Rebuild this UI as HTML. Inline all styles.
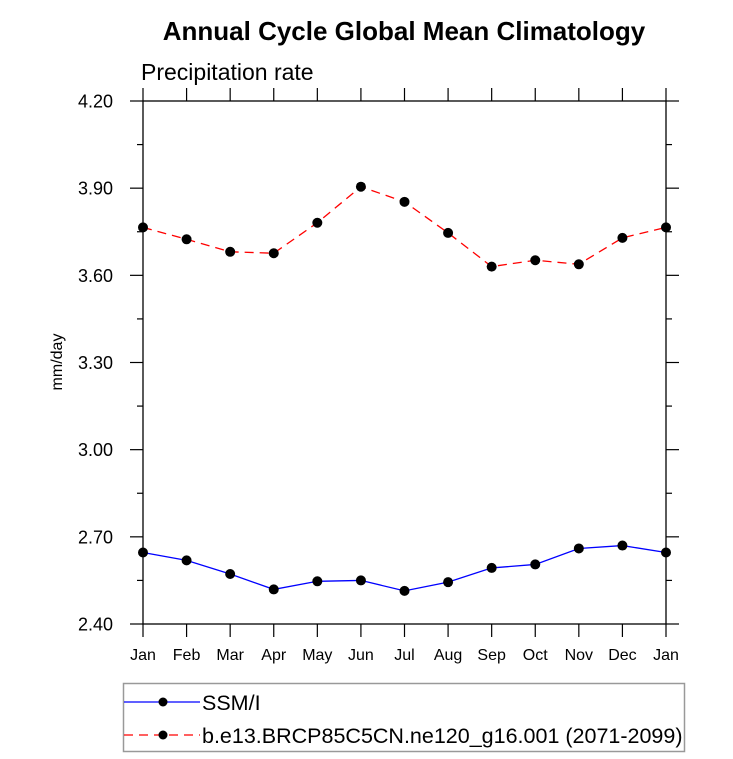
<!DOCTYPE html>
<html><head><meta charset="utf-8"><style>
html,body{margin:0;padding:0;background:#fff;}
svg{display:block;font-family:"Liberation Sans",Arial,sans-serif;}
</style></head><body>
<svg id="chart" width="733" height="759">
<text x="404" y="40" text-anchor="middle" font-size="26" font-weight="bold">Annual Cycle Global Mean Climatology</text>
<text x="141" y="80" font-size="23">Precipitation rate</text>
<text transform="translate(62,362) rotate(-90)" text-anchor="middle" font-size="16">mm/day</text>
<g id="axes"></g>
<g id="series"></g>
<g>
<rect x="123.5" y="683.5" width="561" height="68" fill="none" stroke="#999" stroke-width="1.5"/>
<g>
<line x1="124" y1="702" x2="200" y2="702" stroke="#0000ff" stroke-width="1.3"/>
<circle cx="163" cy="702" r="4.5" fill="#000"/>
<text x="202" y="710" font-size="21.5">SSM/I</text>
</g>
<g>
<line x1="124" y1="735" x2="200" y2="735" stroke="#ff0000" stroke-width="1.3" stroke-dasharray="9,6"/>
<circle cx="163" cy="735" r="4.5" fill="#000"/>
<text x="202" y="743" font-size="21.5">b.e13.BRCP85C5CN.ne120_g16.001 (2071-2099)</text>
</g>
</g>
</svg>
<script>
const months = ["Jan","Feb","Mar","Apr","May","Jun","Jul","Aug","Sep","Oct","Nov","Dec","Jan"];
const ssmiValues = [2.646,2.619,2.572,2.519,2.547,2.550,2.514,2.544,2.593,2.605,2.660,2.670,2.646];
const modelValues = [3.765,3.724,3.681,3.676,3.781,3.905,3.853,3.746,3.630,3.652,3.638,3.729,3.765];
const yTicks = [2.40,2.70,3.00,3.30,3.60,3.90,4.20];
const yTickLabels = ["2.40","2.70","3.00","3.30","3.60","3.90","4.20"];

const X0=143, X1=666, Y0=624, Y1=101, YMIN=2.40, YMAX=4.20;
const xs = i => X0 + i*(X1-X0)/(months.length-1);
const ys = v => Y0 - (v-YMIN)/(YMAX-YMIN)*(Y0-Y1);
const NS="http://www.w3.org/2000/svg";
function mk(tag, attrs, parent){const e=document.createElementNS(NS,tag);for(const k in attrs)e.setAttribute(k,attrs[k]);parent.appendChild(e);return e;}
const axes=document.getElementById('axes');
const frame=mk('rect',{x:X0,y:Y1,width:X1-X0,height:Y0-Y1,fill:'none',stroke:'#000','stroke-width':1.3},axes);


months.forEach((m,i)=>{
  const x=xs(i);
  mk('line',{x1:x,y1:Y0,x2:x,y2:Y0+13,stroke:'#000','stroke-width':1.2},axes);
  mk('line',{x1:x,y1:Y1,x2:x,y2:Y1-13,stroke:'#000','stroke-width':1.2},axes);
  const t=mk('text',{x:x,y:Y0+36,'text-anchor':'middle','font-size':16},axes);
  t.textContent=m;
  
  
});
yTicks.forEach((v,i)=>{
  const y=ys(v);
  mk('line',{x1:X0-13,y1:y,x2:X0,y2:y,stroke:'#000','stroke-width':1.2},axes);
  mk('line',{x1:X1,y1:y,x2:X1+13,y2:y,stroke:'#000','stroke-width':1.2},axes);
  const t=mk('text',{x:X0-30,y:y+6.5,'text-anchor':'end','font-size':18},axes);
  t.textContent=yTickLabels[i];
  
  
  if(i<yTicks.length-1){
    const ym=ys(v+0.15);
    mk('line',{x1:X0-6,y1:ym,x2:X0,y2:ym,stroke:'#000','stroke-width':1.2},axes);
    mk('line',{x1:X1,y1:ym,x2:X1+6,y2:ym,stroke:'#000','stroke-width':1.2},axes);
  }
});
const ser=document.getElementById('series');
function draw(vals,color,dash,name){
  const g=mk('g',{},ser);
  
  
  const attrs={points:vals.map((v,i)=>xs(i)+','+ys(v)).join(' '),fill:'none',stroke:color,'stroke-width':1.3};
  if(dash)attrs['stroke-dasharray']=dash;
  mk('polyline',attrs,g);
  vals.forEach((v,i)=>{
    const c=mk('circle',{cx:xs(i),cy:ys(v),r:5,fill:'#000'},g);
    
    
  });
}
draw(ssmiValues,'#0000ff',null,'series-ssmi');
draw(modelValues,'#ff0000','9,6','series-model');
</script>
</body></html>
